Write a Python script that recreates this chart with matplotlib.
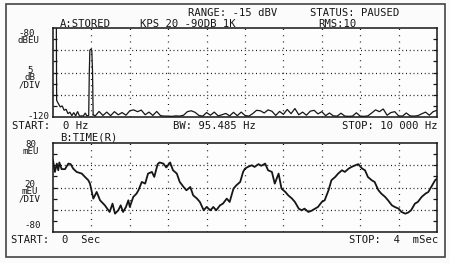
import numpy as np
import matplotlib
matplotlib.use('Agg')
import matplotlib.pyplot as plt
from matplotlib.patches import Rectangle

# ---- spectrum (trace A), Hz / dBEU ----
# DC spike and the 1 kHz line
spec_hz = [0, 85, 95, 140, 190, 240, 290, 340, 390, 440, 490, 540, 590, 640,
           690, 740, 790, 840, 880, 930, 945, 960, 985, 1010, 1030, 1045]
spec_db = [-70, -70, -112.5, -114, -115.5, -115, -117, -116.5, -118.5, -117.8,
           -119.4, -118, -119.5, -117.5, -119.6, -119.5, -119.6, -118.2, -119.5,
           -119.3, -100, -90, -89.5, -90, -100, -119]
# noise floor, 1100..10000 Hz every 100 Hz
floor_hz = np.arange(1100, 10001, 100)
floor_db = [-119.5, -117.5, -119.3, -117.8, -119.4, -117.6, -119.0, -118.0, -119.2,
            -117.2, -116.8, -117.6, -116.9, -119.0, -117.8, -119.3, -117.5, -119.4,
            -119.6, -119.6, -119.7, -119.5, -119.6, -119.2, -117.6, -117.2, -117.9,
            -119.3, -119.6, -118.0, -119.2, -117.8, -119.5, -119.0, -118.4, -119.5,
            -117.9, -119.4, -117.8, -119.3, -119.6, -118.5, -117.0, -117.2, -118.2,
            -116.8, -117.4, -119.3, -117.5, -118.8, -116.6, -118.5, -116.2, -119.0,
            -117.8, -119.2, -117.4, -117.0, -118.6, -117.6, -119.4, -118.2, -119.5,
            -119.6, -118.3, -119.6, -119.7, -119.6, -118.1, -119.6, -119.7, -119.5,
            -118.2, -116.8, -117.6, -116.4, -119.2, -118.0, -117.6, -119.5, -119.6,
            -118.2, -119.5, -119.6, -119.4, -118.6, -117.8, -119.2, -117.6, -117.0]

# ---- time record (trace B), mSec / mEU ----
time_ms = [0.00, 0.02, 0.04, 0.055, 0.066, 0.09, 0.125, 0.16, 0.184, 0.21, 0.246,
           0.30, 0.333, 0.368, 0.385, 0.42, 0.455, 0.49, 0.54, 0.59, 0.62, 0.646,
           0.68, 0.705, 0.73, 0.76, 0.785, 0.80, 0.836, 0.87, 0.89, 0.925, 0.96,
           0.99, 1.03, 1.055, 1.09, 1.11, 1.15, 1.18, 1.22, 1.25, 1.29, 1.32, 1.36,
           1.39, 1.43, 1.46, 1.50, 1.53, 1.57, 1.60, 1.64, 1.67, 1.70, 1.74, 1.77,
           1.81, 1.84, 1.88, 1.91, 1.95, 1.98, 2.00, 2.03, 2.07, 2.10, 2.14, 2.17,
           2.21, 2.24, 2.28, 2.31, 2.35, 2.38, 2.42, 2.45, 2.49, 2.52, 2.56, 2.59,
           2.62, 2.66, 2.69, 2.73, 2.76, 2.80, 2.83, 2.87, 2.90, 2.94, 2.97, 3.01,
           3.04, 3.08, 3.11, 3.15, 3.18, 3.22, 3.25, 3.28, 3.32, 3.35, 3.39, 3.42,
           3.46, 3.49, 3.53, 3.56, 3.60, 3.63, 3.67, 3.70, 3.73, 3.77, 3.80, 3.84,
           3.88, 3.91, 3.94, 3.98, 4.00]
time_meu = [49, 28, 43, 31, 45, 33, 33, 43, 42, 34, 28,
            25, 19, 13, 7, -20, -8, -23, -32, -44, -29, -47,
            -41, -32, -44, -35, -23, -35, -17, -11, -5, 10, 7,
            25, 28, 19, 42, 45, 43, 36, 45, 31, 25, 10, 1,
            -5, 1, -14, -20, -26, -41, -35, -41, -35, -41, -32, -29,
            -20, -26, -2, 4, 10, 28, 34, 37, 40, 37, 42, 39,
            43, 31, 28, 7, 25, -2, -8, -14, -20, -26, -38, -41,
            -38, -44, -42, -38, -35, -26, -23, -5, 13, 19, 25, 31,
            28, 34, 37, 40, 42, 34, 31, 19, 13, 10, -5, -11,
            -17, -23, -32, -35, -38, -44, -47, -45, -41, -29, -26, -17,
            -11, -8, 1, 13, 16]

W, H = 450, 263
ink = '#161616'
mono = 'DejaVu Sans Mono'
fs = 7.6       # header / footer text
fs_side = 6.6  # stacked scale labels

fig = plt.figure(figsize=(W / 100, H / 100), dpi=100)
fig.patch.set_facecolor('#fbfbfb')


def px_box(x0, y0, x1, y1):
    # pixel box (top-left origin) -> figure fraction rect
    return [x0 / W, 1 - y1 / H, (x1 - x0) / W, (y1 - y0) / H]


def txt(x, y, s, ha='left', size=fs, ls=1.2):
    fig.text(x / W, 1 - y / H, s, ha=ha, va='center', multialignment=ha,
             family=mono, fontsize=size, color=ink, linespacing=ls)


def setup_panel(ax, xlim, ylim, xgrid, ygrid, yticks):
    ax.set_facecolor('#fdfdfd')
    ax.set_xlim(*xlim)
    ax.set_ylim(*ylim)
    for x in xgrid:
        ax.axvline(x, color=ink, lw=0.9, ls=(0, (0.8, 4.2)))
    for y in ygrid:
        ax.axhline(y, color=ink, lw=0.9, ls=(0, (0.8, 2.2)))
    ax.set_xticks([])
    ax.set_yticks(yticks)
    ax.tick_params(axis='y', direction='in', length=3, width=0.9, color=ink,
                   left=True, right=True, labelleft=False)
    for sp in ax.spines.values():
        sp.set_color(ink)
        sp.set_linewidth(1.1)


# outer frame
fig.patches.append(Rectangle((6 / W, 1 - 257 / H), 439 / W, 253 / H,
                             transform=fig.transFigure, fill=False,
                             edgecolor='#444444', lw=1.2))

# top panel: spectrum
ax1 = fig.add_axes(px_box(53, 28, 437, 117))
setup_panel(ax1, (0, 10000), (-120, -80), np.arange(1000, 10000, 1000),
            [-110, -100, -90], np.arange(-115, -80, 5))
ax1.plot(spec_hz, spec_db, color=ink, lw=0.9, solid_joinstyle='miter')
ax1.plot(np.r_[spec_hz[-1], floor_hz], np.r_[spec_db[-1], floor_db],
         color=ink, lw=0.9)

# bottom panel: time record
ax2 = fig.add_axes(px_box(53, 143, 437, 232))
setup_panel(ax2, (0, 4), (-80, 80), np.arange(0.4, 4, 0.4),
            [-40, 0, 40], np.arange(-60, 80, 20))
ax2.plot(time_ms, time_meu, color=ink, lw=1.3)

# header
txt(188, 13, 'RANGE: -15 dBV')
txt(310, 13, 'STATUS: PAUSED')
txt(60, 24, 'A:STORED')
txt(140, 24, 'KPS 20 -90DB 1K')
txt(318, 24, 'RMS:10')

# top panel scale labels
txt(18, 37, '-80\ndBEU', size=fs_side, ls=0.78)
txt(30, 78, '5\ndB\n/DIV', ha='center', size=fs_side, ls=0.78)
txt(49, 117, '-120', ha='right', size=fs_side)
txt(12, 126, 'START:  0 Hz')
txt(173, 126, 'BW: 95.485 Hz')
txt(438, 126, 'STOP: 10 000 Hz', ha='right')

# bottom panel scale labels
txt(31, 148, '80\nmEU', ha='center', size=fs_side, ls=0.78)
txt(30, 192, '20\nmEU\n/DIV', ha='center', size=fs_side, ls=0.78)
txt(41, 225, '-80', ha='right', size=fs_side)
txt(60, 137, 'B:TIME(R)')
txt(11, 240, 'START:  0  Sec')
txt(438, 240, 'STOP:  4  mSec', ha='right')

fig.savefig('out.png', dpi=100, facecolor=fig.get_facecolor())
